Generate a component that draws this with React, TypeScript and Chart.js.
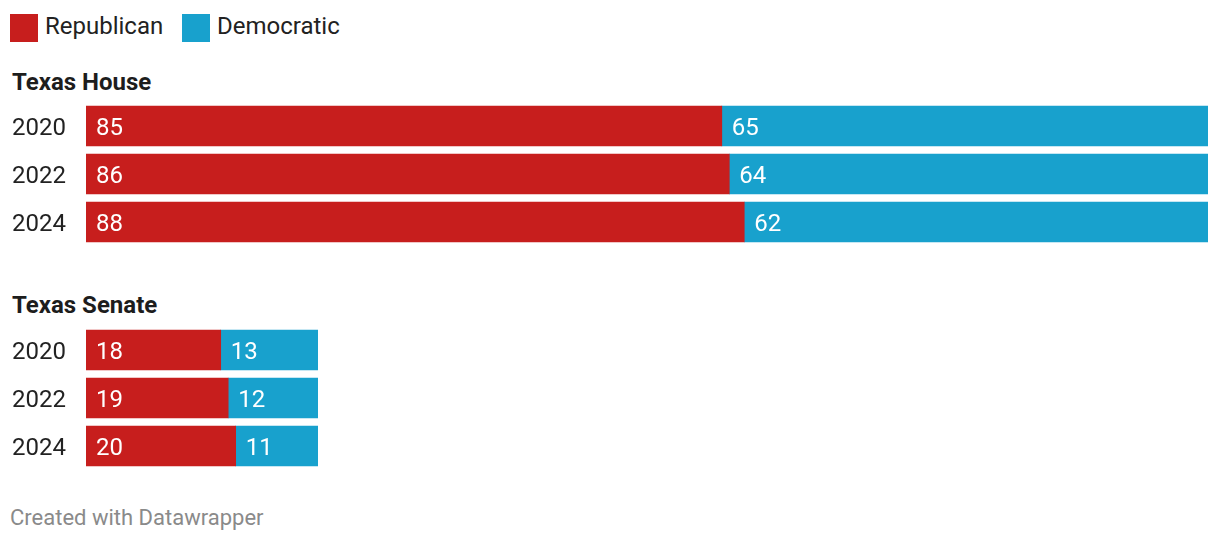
import React, { useEffect, useRef } from "react";
import { Chart, registerables } from "chart.js";

Chart.register(...registerables);

const years = ["2020", "2022", "2024"];
const houseRepublican = [85, 86, 88];
const houseDemocratic = [65, 64, 62];
const senateRepublican = [18, 19, 20];
const senateDemocratic = [13, 12, 11];
const seriesNames = ["Republican", "Democratic"];
const seriesColors = ["#c71e1d", "#18a1cd"];
const chamberTitles = ["Texas House", "Texas Senate"];
const houseTotal = 150;
const senateTotal = 31;
const footerText = "Created with Datawrapper";

const FONT = "Roboto, 'Noto Sans', sans-serif";

const labelPlugin = {
  id: "barLabels",
  afterDatasetsDraw(chart: any) {
    const ctx = chart.ctx;
    ctx.save();
    ctx.font = `400 24px ${FONT}`;
    ctx.textBaseline = "alphabetic";
    ctx.textAlign = "left";
    // category (year) labels on the left, from the y scale
    const yScale = chart.scales.y;
    ctx.fillStyle = "#222222";
    (chart.data.labels as string[]).forEach((lab: string, i: number) => {
      const y = yScale.getPixelForValue(i);
      ctx.fillText(lab, yScale.left, y + 8.5);
    });
    // values inside bars
    ctx.fillStyle = "#ffffff";
    chart.data.datasets.forEach((ds: any, di: number) => {
      const meta = chart.getDatasetMeta(di);
      meta.data.forEach((el: any, i: number) => {
        const p = el.getProps(["x", "y", "base"], true);
        const left = Math.min(p.x, p.base);
        ctx.fillText(String(ds.data[i]), left + 10, p.y + 8.5);
      });
    });
    ctx.restore();
  },
};

function BarBlock({ rep, dem, total, width }: { rep: number[]; dem: number[]; total: number; width: number }) {
  const ref = useRef<HTMLCanvasElement>(null);
  useEffect(() => {
    if (!ref.current) return;
    const chart = new Chart(ref.current, {
      type: "bar",
      data: {
        labels: years,
        datasets: [
          { label: seriesNames[0], data: rep, backgroundColor: seriesColors[0], barThickness: 40, borderWidth: 0 },
          { label: seriesNames[1], data: dem, backgroundColor: seriesColors[1], barThickness: 40, borderWidth: 0 },
        ],
      },
      options: {
        indexAxis: "y",
        animation: false,
        responsive: false,
        maintainAspectRatio: false,
        devicePixelRatio: 1,
        layout: { padding: 0 },
        plugins: { legend: { display: false }, tooltip: { enabled: false } },
        scales: {
          x: { stacked: true, min: 0, max: total, display: false },
          y: {
            stacked: true,
            grid: { display: false, drawTicks: false },
            border: { display: false },
            ticks: { display: false },
            afterFit: (scale: any) => {
              scale.width = 74;
              scale.paddingTop = 0;
              scale.paddingBottom = 0;
            },
          },
        },
      } as any,
      plugins: [labelPlugin],
    });
    return () => chart.destroy();
  }, []);
  return <canvas ref={ref} width={width} height={144} style={{ display: "block", width, height: 144 }} />;
}

export default function App() {
  const textBase: React.CSSProperties = {
    position: "absolute",
    fontFamily: FONT,
    lineHeight: 1,
    whiteSpace: "nowrap",
    margin: 0,
  };
  return (
    <div style={{ position: "absolute", left: 0, top: 0, width: 1220, height: 544, background: "#ffffff", overflow: "hidden" }}>
      <div style={{ position: "absolute", left: 10, top: 14, width: 28, height: 28, background: seriesColors[0] }} />
      <div style={{ ...textBase, left: 45, top: 14, fontSize: 24, color: "#222222" }}>{seriesNames[0]}</div>
      <div style={{ position: "absolute", left: 182, top: 14, width: 28, height: 28, background: seriesColors[1] }} />
      <div style={{ ...textBase, left: 217, top: 14, fontSize: 24, color: "#222222" }}>{seriesNames[1]}</div>

      <div style={{ ...textBase, left: 12, top: 70, fontSize: 24, fontWeight: 700, color: "#1d1d1d" }}>{chamberTitles[0]}</div>
      <div style={{ position: "absolute", left: 12, top: 102 }}>
        <BarBlock rep={houseRepublican} dem={houseDemocratic} total={houseTotal} width={1196} />
      </div>

      <div style={{ ...textBase, left: 12, top: 293, fontSize: 24, fontWeight: 700, color: "#1d1d1d" }}>{chamberTitles[1]}</div>
      <div style={{ position: "absolute", left: 12, top: 326 }}>
        <BarBlock rep={senateRepublican} dem={senateDemocratic} total={senateTotal} width={306} />
      </div>

      <div style={{ ...textBase, left: 10, top: 507, fontSize: 22, color: "#8a8a8a" }}>{footerText}</div>
    </div>
  );
}
